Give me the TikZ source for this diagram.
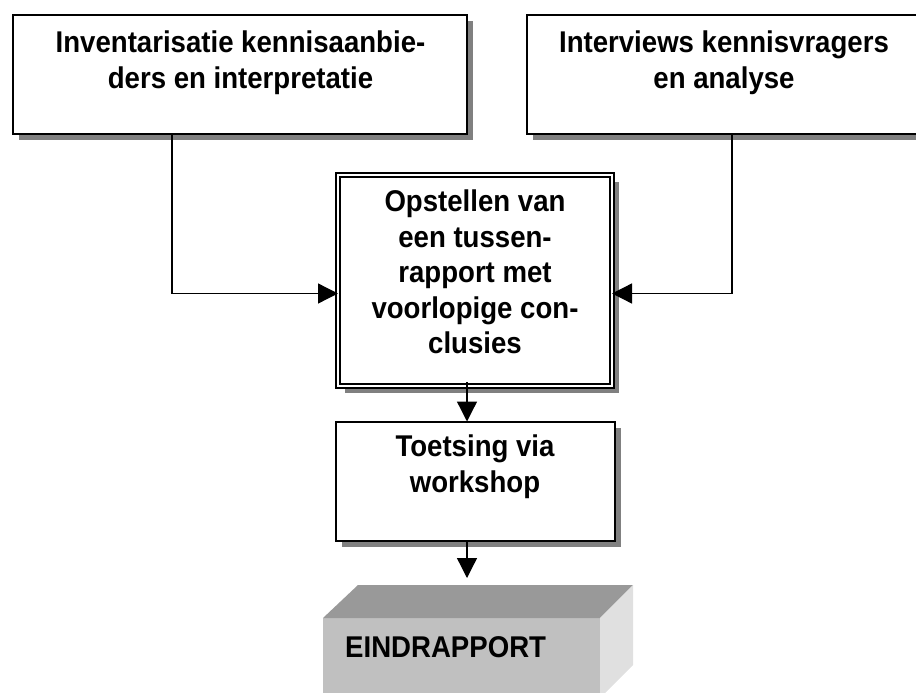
\documentclass[tikz,border=0pt]{standalone}
\usepackage{fontspec}
\setmainfont{Liberation Sans}
\newfontfamily\bxfont[FakeStretch=0.92]{Liberation Sans}
\usetikzlibrary{arrows.meta,shadows}
\definecolor{shd}{HTML}{808080}
\definecolor{topf}{HTML}{999999}
\definecolor{frontf}{HTML}{C0C0C0}
\definecolor{sidef}{HTML}{E0E0E0}
\tikzset{
  boxstyle/.style={draw=black, line width=2pt, fill=white, rectangle, inner sep=0pt, outer sep=0pt,
    drop shadow={shadow xshift=6pt, shadow yshift=-6pt, fill=shd, opacity=1}},
  dblbox/.style={draw=black, line width=1.6pt, double=white, double distance=2.6pt, fill=white, rectangle, inner sep=0pt, outer sep=0pt,
    drop shadow={shadow xshift=7pt, shadow yshift=-7pt, fill=shd, opacity=1}},
  txt/.style={align=center, font=\bxfont\bfseries\fontsize{30}{35.5}\selectfont, inner sep=0pt, anchor=north},
  arr/.style={line width=1.3pt, -{Triangle[length=20pt,width=20pt]}},
}
\begin{document}
\begin{tikzpicture}[x=1pt,y=-1pt]
\useasboundingbox (0,0) rectangle (916,693);
\begin{scope}
\clip (0,0) rectangle (916,693);
% top boxes
\node[boxstyle, minimum width=454pt, minimum height=119pt, anchor=north west] (b1) at (13,15) {};
\node[txt] (b1t) at (240.5,31) {Inventarisatie kennisaanbie-\\ders en interpretatie};
\node[boxstyle, minimum width=400pt, minimum height=119pt, anchor=north west] (b2) at (527,15) {};
\node[txt] (b2t) at (724,31) {Interviews kennisvragers\\en analyse};
% central box
\node[dblbox, minimum width=274pt, minimum height=211pt, anchor=north west] (c) at (338,175) {};
\node[txt] (ct) at (475,190) {Opstellen van\\een tussen-\\rapport met\\voorlopige con-\\clusies};
% toetsing
\node[boxstyle, minimum width=279pt, minimum height=119pt, anchor=north west] (t) at (335.5,421.5) {};
\node[txt] (tt) at (475,435) {Toetsing via\\workshop};
% eindrapport block
\fill[frontf] (323,618) -- (600,618) -- (600,700) -- (323,700) -- cycle;
\fill[topf] (323,618) -- (358,585) -- (633,585) -- (600,618) -- cycle;
\fill[sidef] (600,618) -- (633,585) -- (633,665) -- (600,698) -- cycle;
\node[anchor=base west, font=\bxfont\bfseries\fontsize{30}{35.5}\selectfont, inner sep=0pt] (e) at (345,657) {EINDRAPPORT};
\coordinate (etop) at (467,578);
\end{scope}
% connectors
\draw[arr] ([xshift=159pt]b1.south west) |- ([yshift=-13pt]c.west);
\draw[arr] ([xshift=205pt]b2.south west) |- ([yshift=-13pt]c.east);
\draw[arr] ([xshift=-8pt,yshift=4pt]c.south) -- ([xshift=-8pt]t.north);
\draw[arr] ([xshift=-8pt]t.south) -- (etop);
\end{tikzpicture}
\end{document}
